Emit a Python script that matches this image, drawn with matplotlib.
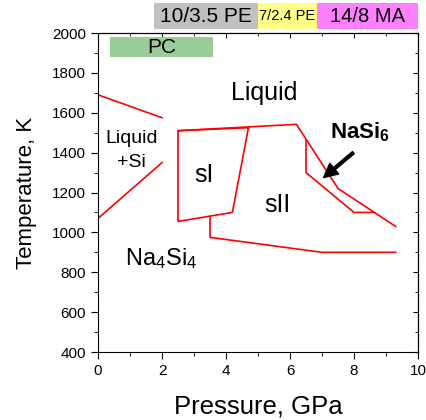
import matplotlib
matplotlib.use("Agg")
import matplotlib.pyplot as plt
from matplotlib.patches import Rectangle
from matplotlib.ticker import MultipleLocator

plt.rcParams["font.family"]=["Liberation Sans","DejaVu Sans"]
plt.rcParams["mathtext.fontset"]="custom"
plt.rcParams["mathtext.rm"]="Liberation Sans"
plt.rcParams["mathtext.it"]="Liberation Sans:italic"
plt.rcParams["mathtext.bf"]="Liberation Sans:bold"

# phase boundaries (pressure GPa, temperature K)
liq_upper_p=[0,2.0]
liq_upper_t=[1690,1575]
liq_lower_p=[0,2.0]
liq_lower_t=[1070,1350]

sI_p=[4.7,2.5,2.5,4.2,4.7]
sI_t=[1525,1510,1055,1100,1525]

top_p=[2.5,6.2,7.5,9.3]
top_t=[1510,1542,1220,1030]

sII_low_p=[3.5,3.5,7.0,9.3]
sII_low_t=[1080,975,900,900]

nasi6_p=[6.5,6.5,8.0,8.6]
nasi6_t=[1460,1300,1100,1100]

# experiment ranges above the plot
bands=[("10/3.5 PE",1.75,5.0,"#c0c0c0",15),
       ("7/2.4 PE",5.0,6.83,"#ffff88",10.5),
       ("14/8 MA",6.83,10.0,"#ff80ff",14.5)]

fig=plt.figure(figsize=(4.27,4.20),dpi=100)
ax=fig.add_axes([0.2295,0.1619,0.7495,0.7595])

red="#ff0000"
ax.plot(liq_upper_p,liq_upper_t,color=red,lw=1.2)
ax.plot(liq_lower_p,liq_lower_t,color=red,lw=1.2)
ax.plot(sI_p,sI_t,color=red,lw=1.2)
ax.plot(top_p,top_t,color=red,lw=1.2)
ax.plot(sII_low_p,sII_low_t,color=red,lw=1.2)
ax.plot(nasi6_p,nasi6_t,color=red,lw=1.2)

ax.set_xlim(0,10)
ax.set_ylim(400,2000)
ax.xaxis.set_major_locator(MultipleLocator(2))
ax.xaxis.set_minor_locator(MultipleLocator(1))
ax.yaxis.set_major_locator(MultipleLocator(200))
ax.yaxis.set_minor_locator(MultipleLocator(100))
ax.tick_params(which="both",direction="out",labelsize=11)
ax.tick_params(which="major",length=5)
ax.tick_params(which="minor",length=3)
ax.set_xlabel("Pressure, GPa",fontsize=18.5,labelpad=12)
ax.set_ylabel("Temperature, K",fontsize=16,labelpad=11)

# mirrored ticks
axt=ax.secondary_xaxis("top")
axt.xaxis.set_major_locator(MultipleLocator(2))
axt.xaxis.set_minor_locator(MultipleLocator(1))
axt.tick_params(which="both",direction="in",labeltop=False)
axr=ax.secondary_yaxis("right")
axr.yaxis.set_major_locator(MultipleLocator(200))
axr.yaxis.set_minor_locator(MultipleLocator(100))
axr.tick_params(which="both",direction="in",labelright=False)

ax.text(5.2,1700,"Liquid",fontsize=18,ha="center",va="center")
ax.text(1.05,1473,"Liquid",fontsize=14,ha="center",va="center")
ax.text(1.05,1353,"+Si",fontsize=14,ha="center",va="center")
ax.text(3.3,1290,"sI",fontsize=18,ha="center",va="center")
ax.text(5.6,1135,"sII",fontsize=18,ha="center",va="center")
ax.text(0.85,870,"Na$_4$Si$_4$",fontsize=17,ha="left",va="center")
ax.text(7.25,1500,r"NaSi$_\mathbf{6}$",fontsize=16,ha="left",va="center",
        fontweight="bold")
ax.annotate("",xy=(7.05,1275),xytext=(7.98,1400),
            arrowprops=dict(facecolor="black",edgecolor="black",width=2,
                            headwidth=10,headlength=10,shrink=0))

ax.add_patch(Rectangle((0.38,1878),3.22,102,facecolor="#99cc99",edgecolor="none"))
ax.text(1.99,1929,"PC",fontsize=15,ha="center",va="center")

for name,p0,p1,col,fs in bands:
    ax.add_patch(Rectangle((p0,2020),p1-p0,130,facecolor=col,edgecolor="none",
                           clip_on=False))
    ax.text((p0+p1)/2,2085,name,fontsize=fs,ha="center",va="center",clip_on=False)

fig.savefig("out.png",dpi=100)
